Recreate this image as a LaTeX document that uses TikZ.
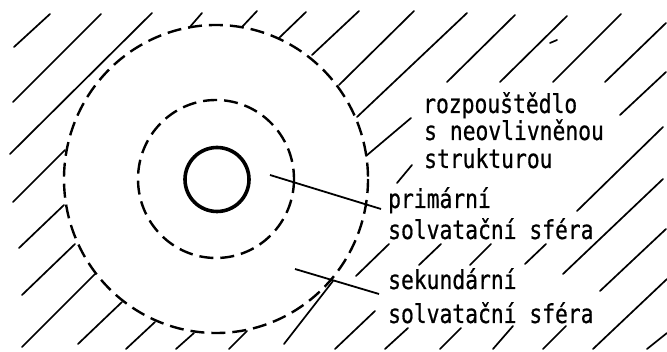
\documentclass[tikz,border=0pt]{standalone}
\usepackage{fontspec}
\newfontfamily\lab[FakeStretch=0.82,FakeBold=0.6]{DejaVu Sans Mono}
\begin{document}
\begin{tikzpicture}[x=1pt,y=-1pt,
  hatch/.style={line width=1.7pt,line cap=round},
  dashcirc/.style={line width=2.4pt,dash pattern=on 14pt off 7pt},
  ion/.style={line width=3.6pt},
  pointer/.style={line width=1.8pt},
  lbl/.style={anchor=base west,inner sep=0pt,font=\lab\fontsize{26}{30}\selectfont}]
\useasboundingbox (0,0) rectangle (667,352);
% spheres
\draw[ion] (217,179.5) circle[radius=32];
\draw[dashcirc] (216,179) ellipse[x radius=78,y radius=79];
\draw[dashcirc] (216,179) ellipse[x radius=152,y radius=154];
% hatching
\foreach \a/\b/\c/\d in {
 14/47/50/14, 13/102/101/14, 10/154/152/13, 13/202/65/150, 19/248/64/205,
 22/295/75/244, 22/347/95/274, 78/344/122/302, 126/349/155/322, 176/349/194/333,
 229/349/247/331, 284/344/333/281, 335/349/375/311, 356/276/389/244,
 189/28/202/13, 242/27/257/11, 279/38/306/12, 312/55/359/11, 339/85/414/11,
 357/117/467/13, 366/156/411/118, 397/183/412/165, 447/82/515/15, 500/82/567/16,
 553/82/621/14, 605/82/666/23, 620/115/666/72, 577/211/663/127, 563/274/663/179,
 600/291/666/229, 593/349/667/279, 647/349/667/333, 419/265/441/244,
 470/265/491/244, 525/264/546/244, 385/349/408/328, 440/349/461/328,
 493/349/513/326, 543/349/566/326, 550/43/557/40}
 \draw[hatch] (\a,\b) -- (\c,\d);
% labels
\node[lbl] (t1) at (423,113) {rozpouštědlo};
\node[lbl] (t2) at (424,140) {s neovlivněnou};
\node[lbl] (t3) at (424,168) {strukturou};
\node[lbl] (p1) at (388,208) {primární};
\node[lbl] (p2) at (388,239) {solvatační sféra};
\node[lbl] (s1) at (388,289) {sekundární};
\node[lbl] (s2) at (388,323) {solvatační sféra};
% pointers
\coordinate (pa) at (270,175);
\coordinate (pb) at (381,209);
\coordinate (sa) at (295,269);
\coordinate (sb) at (379,294);
\draw[pointer] (pa) -- (pb);
\draw[pointer] (sa) -- (sb);
\end{tikzpicture}
\end{document}
